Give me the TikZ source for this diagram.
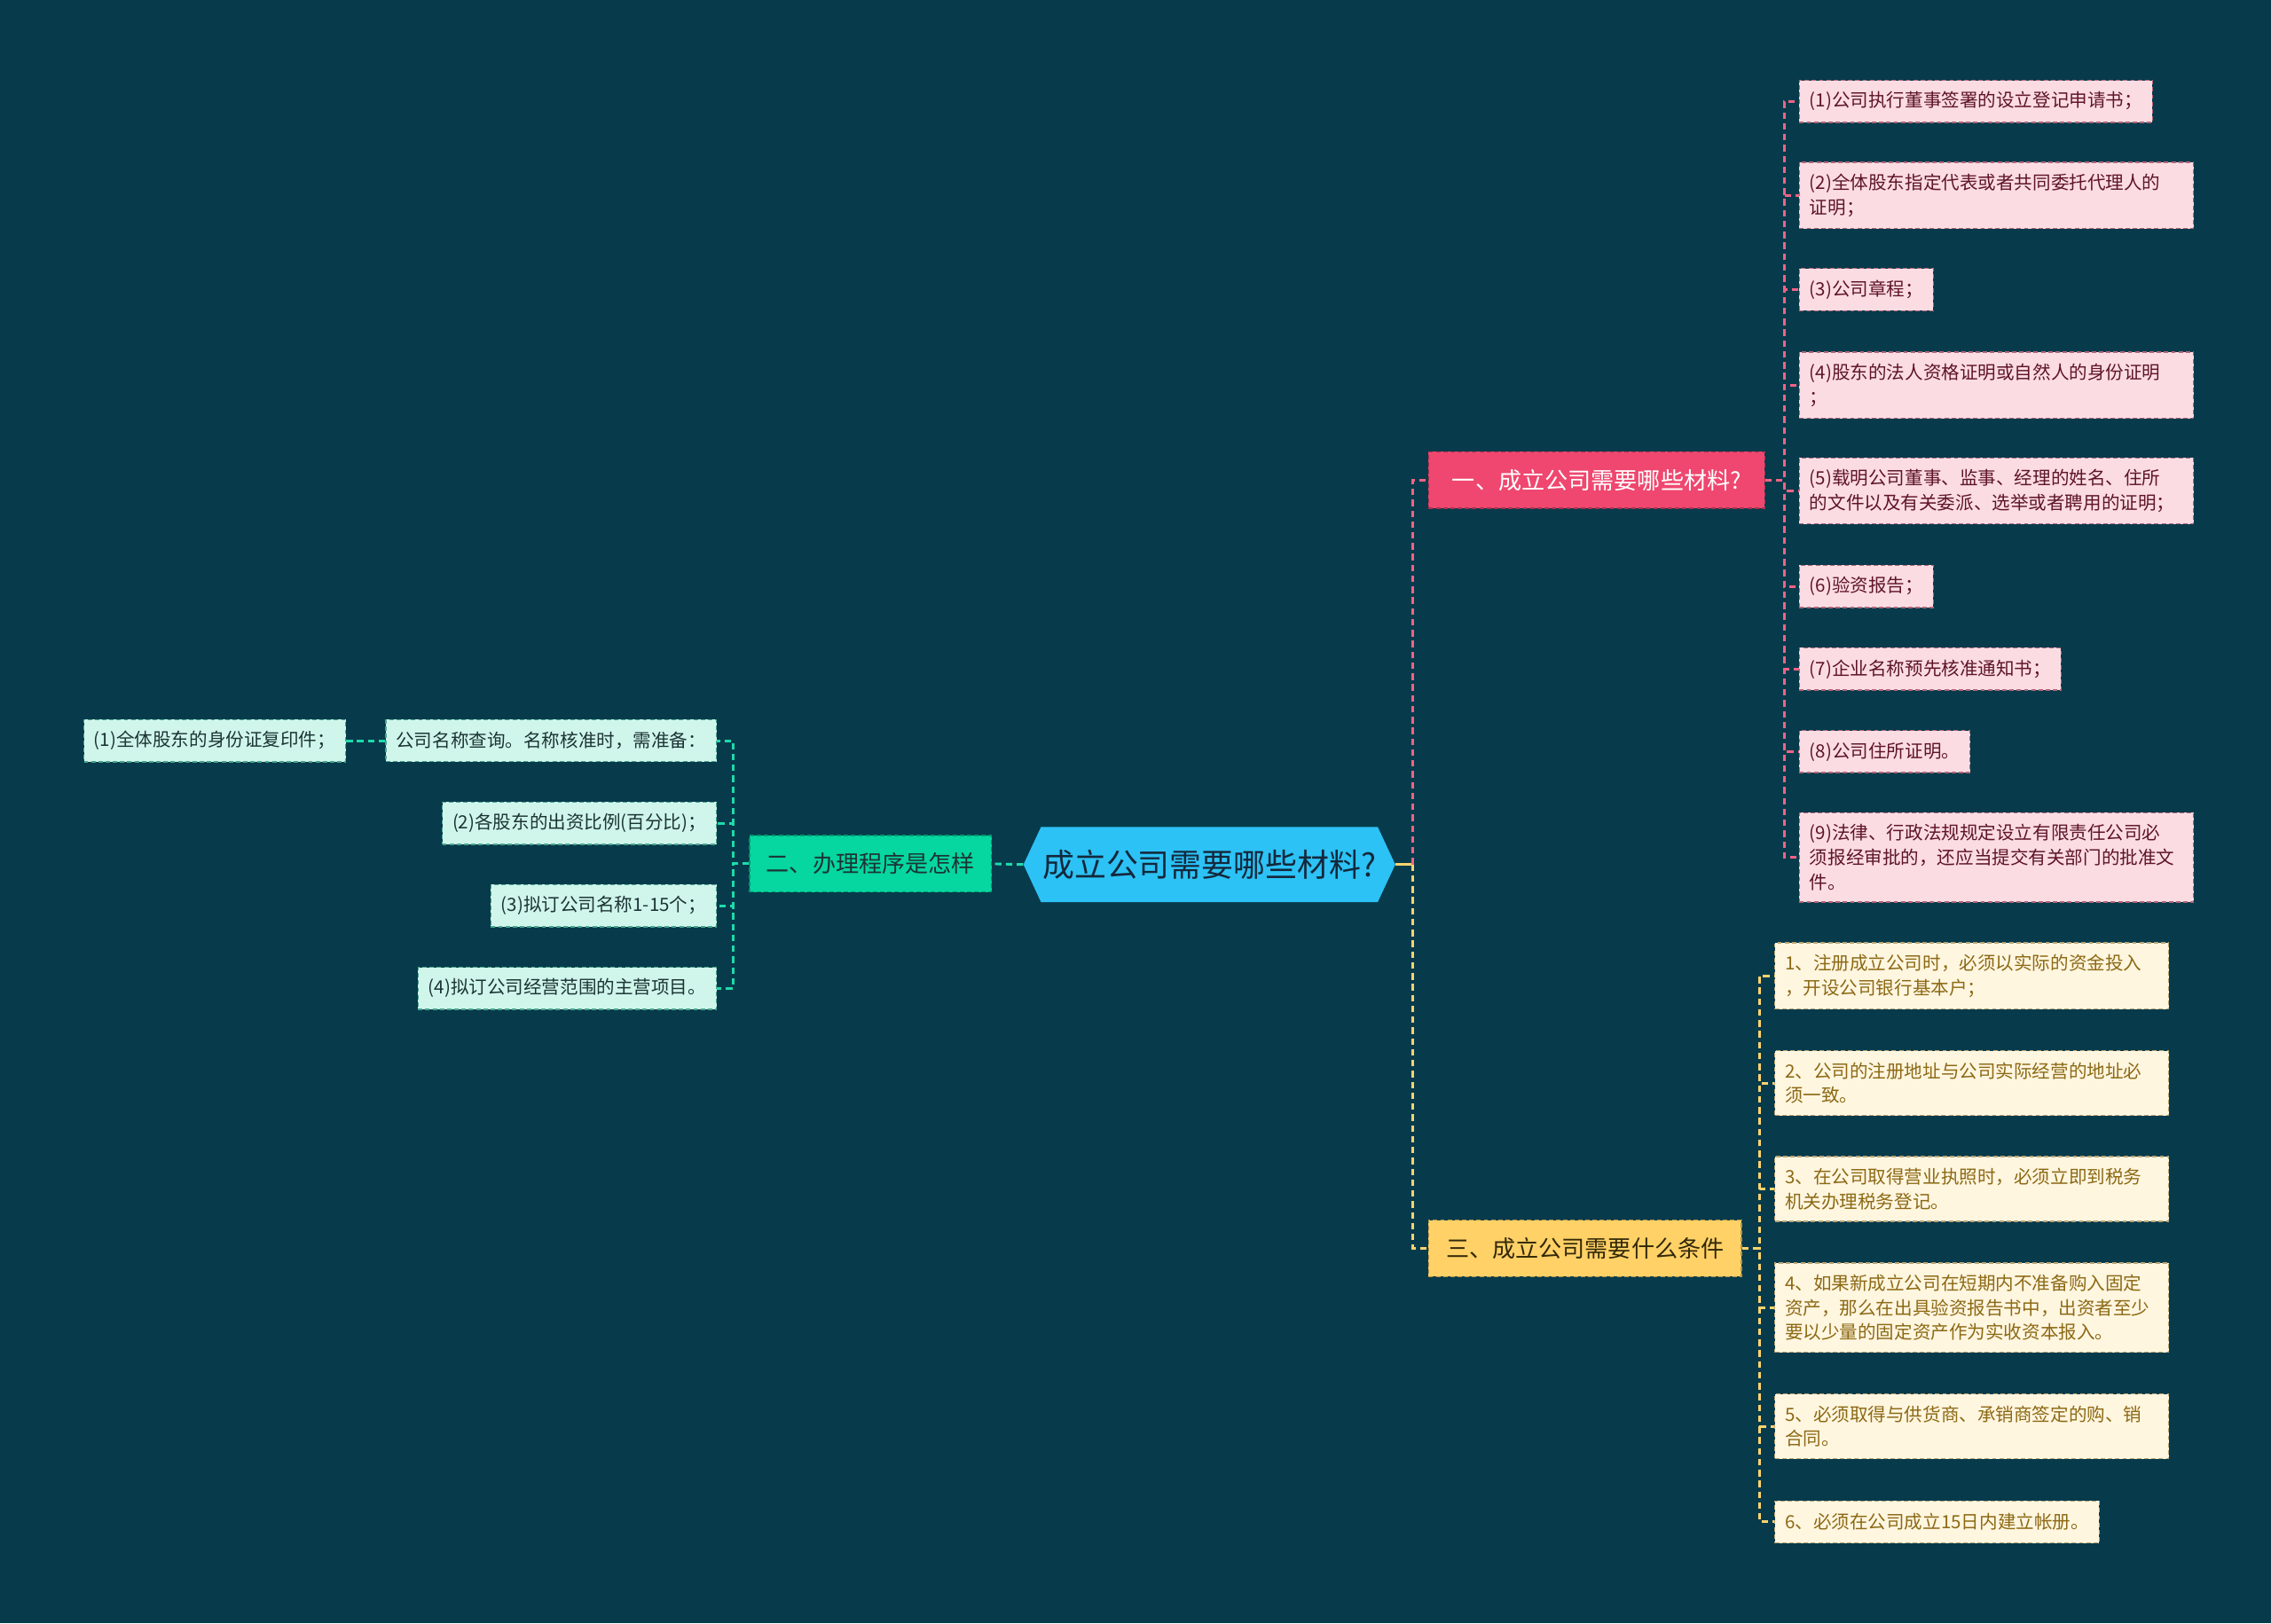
\documentclass[tikz,border=0pt]{standalone}
\usepackage{fontspec}
\setmainfont{Noto Sans CJK SC}
\usetikzlibrary{shapes.symbols, positioning}
\definecolor{bgdark}{RGB}{7,59,76}
\definecolor{rootblue}{RGB}{44,194,245}
\definecolor{pinkmain}{RGB}{239,71,111}
\definecolor{greenmain}{RGB}{6,214,160}
\definecolor{yellowmain}{RGB}{255,209,102}
\definecolor{pinklight}{RGB}{252,220,227}
\definecolor{greenlight}{RGB}{208,246,236}
\definecolor{yellowlight}{RGB}{255,246,224}
\definecolor{pinktext}{RGB}{94,21,39}
\definecolor{greentext}{RGB}{28,52,52}
\definecolor{yellowtext}{RGB}{140,105,20}
\tikzset{
  root/.style={
    signal, signal to=west and east, signal pointer angle=130,
    fill=rootblue, text={rgb,255:red,20;green,40;blue,60},
    font=\fontsize{22}{26}\selectfont, minimum height=52pt, inner xsep=1pt
  },
  topic/.style={
    draw, line width=0.8pt, dash pattern=on 3pt off 2pt,
    minimum height=39pt, inner xsep=9pt, font=\fontsize{16}{20}\selectfont
  },
  leaf/.style={
    draw, line width=0.8pt, dash pattern=on 3pt off 2pt, align=left,
    minimum height=29pt, inner xsep=7pt, inner ysep=8pt,
    font=\fontsize{12.6}{17}\selectfont
  },
  wide/.style={text width=258pt},
  pinkleaf/.style={leaf, fill=pinklight, draw=pinkmain!45!gray, text=pinktext},
  greenleaf/.style={leaf, fill=greenlight, draw=greenmain!45!gray, text=greentext},
  yellowleaf/.style={leaf, fill=yellowlight, draw=yellowmain!45!gray, text=yellowtext},
  pinkline/.style={draw=pinkmain!85!white, line width=1.8pt, dash pattern=on 4.5pt off 3pt},
  greenline/.style={draw=greenmain!90!white, line width=1.8pt, dash pattern=on 4.5pt off 3pt},
  yellowline/.style={draw=yellowmain!95!white, line width=1.8pt, dash pattern=on 4.5pt off 3pt},
}
\begin{document}
\begin{tikzpicture}[x=1pt,y=-1pt]
  \fill[bgdark] (0,0) rectangle (1568,1121);
  \useasboundingbox (0,0) rectangle (1568,1121);

  \node[root] (root) at (835,597) {成立公司需要哪些材料?};
  \node[topic, minimum width=232pt, fill=pinkmain, draw=pinkmain!70!black, text=white, anchor=west] (mat) at (986,331.5) {一、成立公司需要哪些材料?};
  \node[topic, minimum width=167pt, fill=greenmain, draw=greenmain!70!black, text=greentext, anchor=east] (proc) at (685,596.5) {二、办理程序是怎样};
  \node[topic, minimum width=216pt, fill=yellowmain, draw=yellowmain!70!black, text={rgb,255:red,50;green,40;blue,10}, anchor=west] (cond) at (986,862) {三、成立公司需要什么条件};

  \node[pinkleaf, anchor=west] (m1) at (1242,70) {(1)公司执行董事签署的设立登记申请书；};
  \node[pinkleaf, wide, anchor=west] (m2) at (1242,135) {(2)全体股东指定代表或者共同委托代理人的\\证明；};
  \node[pinkleaf, anchor=west] (m3) at (1242,200) {(3)公司章程；};
  \node[pinkleaf, wide, anchor=west] (m4) at (1242,266) {(4)股东的法人资格证明或自然人的身份证明\\；};
  \node[pinkleaf, wide, anchor=west] (m5) at (1242,339) {(5)载明公司董事、监事、经理的姓名、住所\\的文件以及有关委派、选举或者聘用的证明；};
  \node[pinkleaf, anchor=west] (m6) at (1242,405) {(6)验资报告；};
  \node[pinkleaf, anchor=west] (m7) at (1242,462) {(7)企业名称预先核准通知书；};
  \node[pinkleaf, anchor=west] (m8) at (1242,519) {(8)公司住所证明。};
  \node[pinkleaf, wide, anchor=west] (m9) at (1242,592) {(9)法律、行政法规规定设立有限责任公司必\\须报经审批的，还应当提交有关部门的批准文\\件。};

  \node[greenleaf, anchor=east] (p1) at (495,511.5) {公司名称查询。名称核准时，需准备：};
  \node[greenleaf, anchor=east] (p2) at (495,568.5) {(2)各股东的出资比例(百分比)；};
  \node[greenleaf, anchor=east] (p3) at (495,625.5) {(3)拟订公司名称1-15个；};
  \node[greenleaf, anchor=east] (p4) at (495,682.5) {(4)拟订公司经营范围的主营项目。};
  \node[greenleaf, anchor=east] (p11) at (239,511.5) {(1)全体股东的身份证复印件；};

  \node[yellowleaf, wide, anchor=west] (c1) at (1225,674) {1、注册成立公司时，必须以实际的资金投入\\，开设公司银行基本户；};
  \node[yellowleaf, wide, anchor=west] (c2) at (1225,748) {2、公司的注册地址与公司实际经营的地址必\\须一致。};
  \node[yellowleaf, wide, anchor=west] (c3) at (1225,821) {3、在公司取得营业执照时，必须立即到税务\\机关办理税务登记。};
  \node[yellowleaf, wide, anchor=west] (c4) at (1225,903) {4、如果新成立公司在短期内不准备购入固定\\资产，那么在出具验资报告书中，出资者至少\\要以少量的固定资产作为实收资本报入。};
  \node[yellowleaf, wide, anchor=west] (c5) at (1225,985) {5、必须取得与供货商、承销商签定的购、销\\合同。};
  \node[yellowleaf, anchor=west] (c6) at (1225,1051) {6、必须在公司成立15日内建立帐册。};

  \draw[greenline] (root.west) -- (proc.east);
  \draw[yellowline, solid] (root.east) -- ++(12,0) coordinate (hub);
  \draw[pinkline] (hub) |- (mat.west);
  \draw[yellowline] (hub) |- (cond.west);

  \draw[pinkline] (mat.east) -- ++(13,0) |- (m1.west);
  \draw[pinkline] (mat.east) -- ++(13,0) |- (m2.west);
  \draw[pinkline] (mat.east) -- ++(13,0) |- (m3.west);
  \draw[pinkline] (mat.east) -- ++(13,0) |- (m4.west);
  \draw[pinkline] (mat.east) -- ++(13,0) |- (m5.west);
  \draw[pinkline] (mat.east) -- ++(13,0) |- (m6.west);
  \draw[pinkline] (mat.east) -- ++(13,0) |- (m7.west);
  \draw[pinkline] (mat.east) -- ++(13,0) |- (m8.west);
  \draw[pinkline] (mat.east) -- ++(13,0) |- (m9.west);

  \draw[greenline] (proc.west) -- ++(-11,0) |- (p1.east);
  \draw[greenline] (proc.west) -- ++(-11,0) |- (p2.east);
  \draw[greenline] (proc.west) -- ++(-11,0) |- (p3.east);
  \draw[greenline] (proc.west) -- ++(-11,0) |- (p4.east);
  \draw[greenline] (p1.west) -- (p11.east);

  \draw[yellowline] (cond.east) -- ++(12,0) |- (c1.west);
  \draw[yellowline] (cond.east) -- ++(12,0) |- (c2.west);
  \draw[yellowline] (cond.east) -- ++(12,0) |- (c3.west);
  \draw[yellowline] (cond.east) -- ++(12,0) |- (c4.west);
  \draw[yellowline] (cond.east) -- ++(12,0) |- (c5.west);
  \draw[yellowline] (cond.east) -- ++(12,0) |- (c6.west);
\end{tikzpicture}
\end{document}
